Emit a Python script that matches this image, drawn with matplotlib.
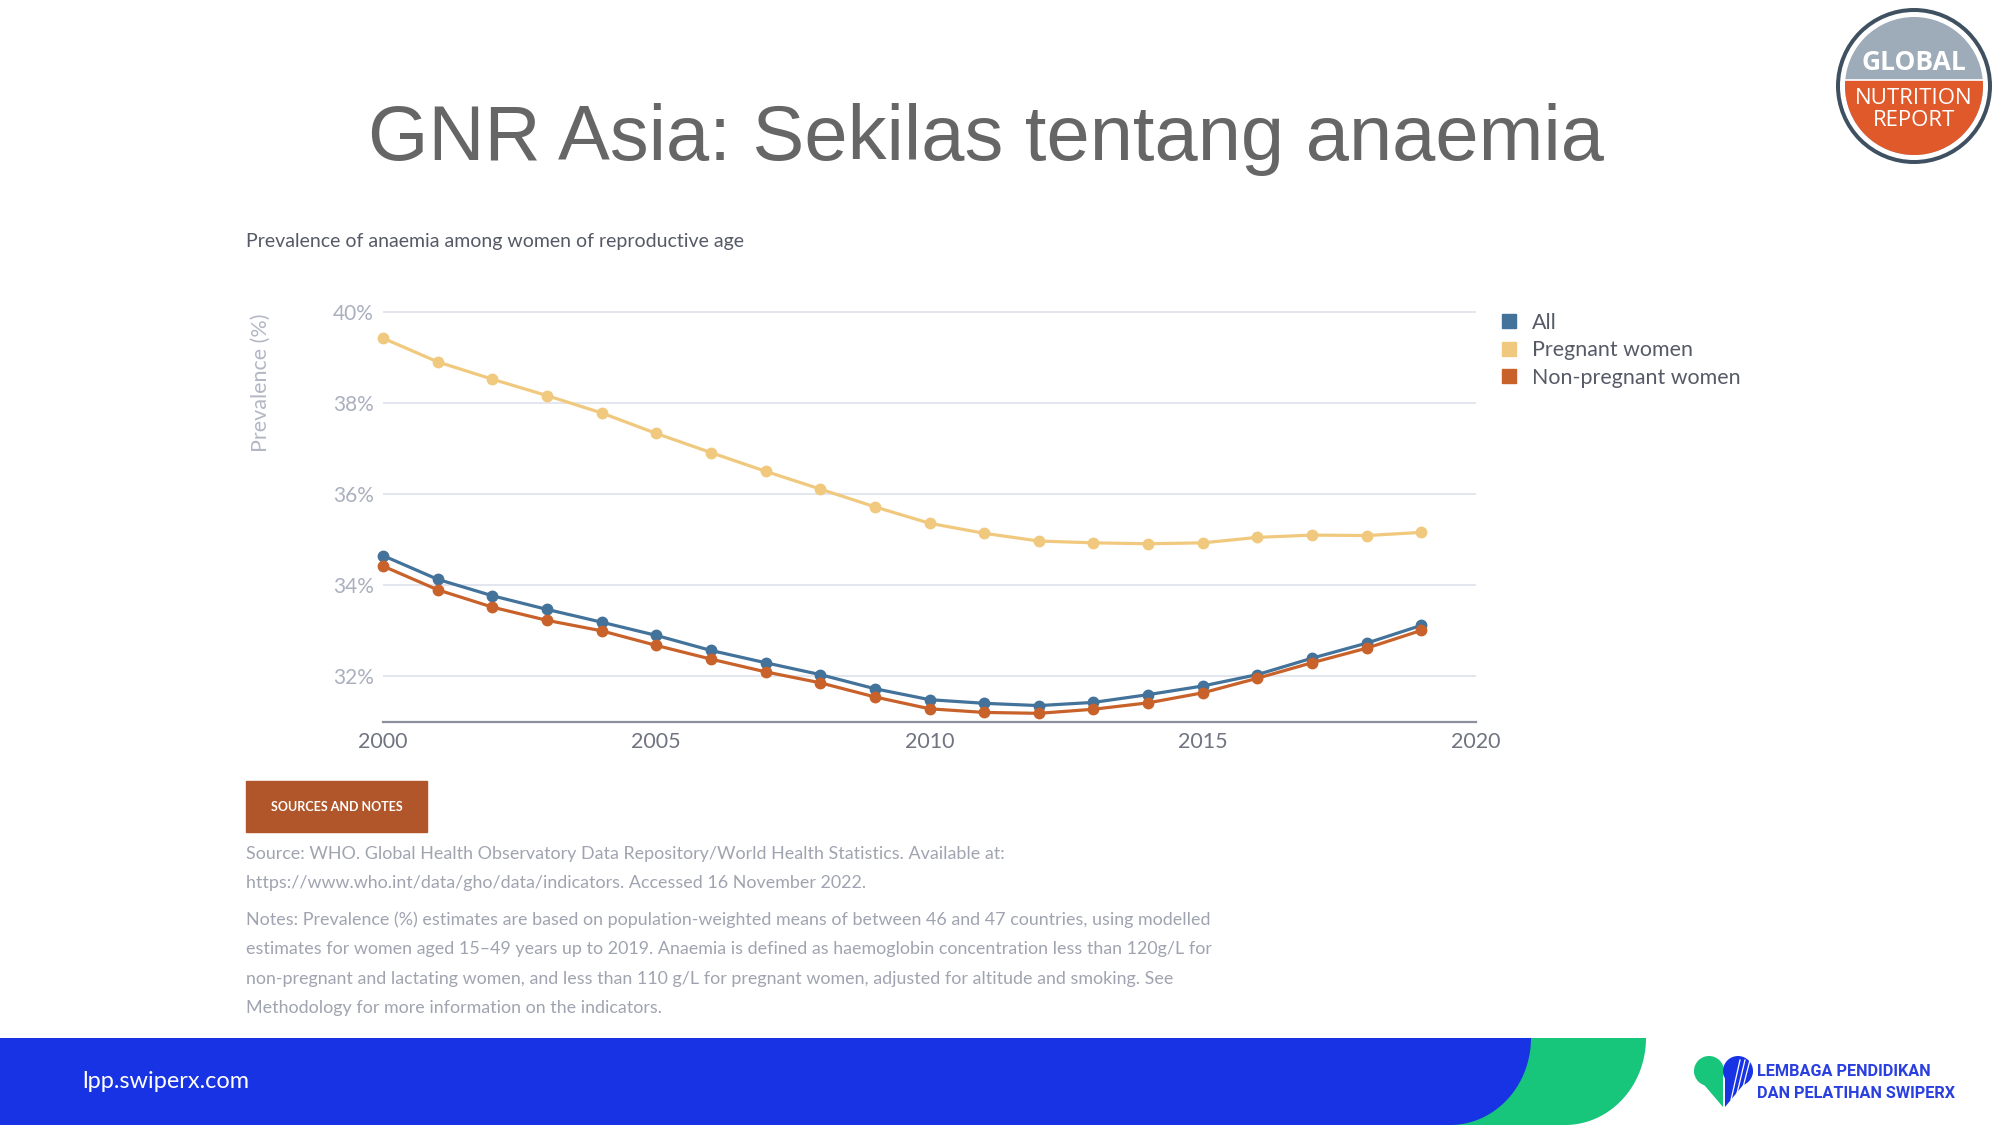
import matplotlib
matplotlib.use("Agg")
import matplotlib.pyplot as plt
from matplotlib.patches import Circle, Rectangle, Polygon
from matplotlib.lines import Line2D
import numpy as np

# values (% of women of reproductive age with anaemia)
years = list(range(2000, 2020))
all_women = [34.65, 34.13, 33.77, 33.47, 33.19, 32.90, 32.57, 32.30, 32.04, 31.73,
             31.49, 31.41, 31.36, 31.43, 31.60, 31.79, 32.04, 32.40, 32.73, 33.12]
pregnant = [39.42, 38.90, 38.52, 38.16, 37.78, 37.33, 36.91, 36.50, 36.11, 35.72,
            35.36, 35.14, 34.97, 34.93, 34.91, 34.93, 35.05, 35.10, 35.09, 35.16]
non_pregnant = [34.42, 33.90, 33.52, 33.23, 33.00, 32.68, 32.38, 32.10, 31.86, 31.55,
                31.29, 31.21, 31.19, 31.28, 31.42, 31.64, 31.96, 32.30, 32.62, 33.01]

series_names = ["All", "Pregnant women", "Non-pregnant women"]
series_colors = ["#43729a", "#f0c97e", "#c8622a"]
y_ticks = [32, 34, 36, 38, 40]
y_tick_labels = ["32%", "34%", "36%", "38%", "40%"]
x_ticks = [2000, 2005, 2010, 2015, 2020]

title = "GNR Asia: Sekilas tentang anaemia"
subtitle = "Prevalence of anaemia among women of reproductive age"
source_lines = [
    "Source: WHO. Global Health Observatory Data Repository/World Health Statistics. Available at:",
    "https://www.who.int/data/gho/data/indicators. Accessed 16 November 2022.",
]
notes_lines = [
    "Notes: Prevalence (%) estimates are based on population-weighted means of between 46 and 47 countries, using modelled",
    "estimates for women aged 15\u201349 years up to 2019. Anaemia is defined as haemoglobin concentration less than 120g/L for",
    "non-pregnant and lactating women, and less than 110 g/L for pregnant women, adjusted for altitude and smoking. See",
    "Methodology for more information on the indicators.",
]

W, H = 2000, 1125
fig = plt.figure(figsize=(20, 11.25), dpi=100)
fig.patch.set_facecolor("white")

# full-figure layer in pixel units for the slide decoration
bg = fig.add_axes([0, 0, 1, 1], zorder=0)
bg.set_xlim(0, W)
bg.set_ylim(H, 0)
bg.axis("off")

# ---- chart ----
ax = fig.add_axes([383 / W, 1 - 722 / H, (1476 - 383) / W, (722 - 302.6) / H], zorder=2)
ax.set_facecolor("none")
ax.plot(years, pregnant, color=series_colors[1], lw=2.3, marker="o", ms=7.5, zorder=3, clip_on=False)
ax.plot(years, all_women, color=series_colors[0], lw=2.3, marker="o", ms=7.5, zorder=3, clip_on=False)
ax.plot(years, non_pregnant, color=series_colors[2], lw=2.3, marker="o", ms=7.5, zorder=4, clip_on=False)

ax.set_xlim(2000, 2020)
ax.set_ylim(31, 40.2)
ax.set_yticks(y_ticks)
ax.set_yticklabels(y_tick_labels)
ax.set_xticks(x_ticks)
ax.grid(axis="y", color="#e3e6ee", lw=1.4)
ax.set_axisbelow(True)
for s in ["top", "right", "left"]:
    ax.spines[s].set_visible(False)
ax.spines["bottom"].set_color("#8a909c")
ax.spines["bottom"].set_linewidth(1.6)
ax.tick_params(length=0)
ax.tick_params(axis="y", pad=6.5, labelsize=15, labelcolor="#aab0bf")
ax.tick_params(axis="x", pad=7, labelsize=15.5, labelcolor="#6f7480")
for lab in ax.get_xticklabels() + ax.get_yticklabels():
    lab.set_fontfamily("Lato")

handles = [Line2D([], [], ls="none", marker="s", ms=9.5, color=c) for c in series_colors]
fig.legend(handles, series_names, loc="upper left", bbox_to_anchor=(1491 / W, 1 - 302 / H),
           frameon=False, borderpad=0, handlelength=0.7, handletextpad=0.7,
           labelspacing=0.35, prop={"family": "Lato", "size": 15.4}, labelcolor="#555a66")

bg.text(261, 383, "Prevalence (%)", rotation=90, ha="center", va="center",
        fontsize=15.5, color="#b3b7c4", family="Lato")

# ---- slide texts ----
bg.text(986, 139, title, ha="center", va="center", fontsize=56, color="#666666",
        family="Liberation Sans")
bg.text(246, 241, subtitle, ha="left", va="center", fontsize=14, color="#555a66", family="Lato")

bg.add_patch(Rectangle((246, 781), 181, 51, color="#b0562a"))
bg.text(336.5, 807, "SOURCES AND NOTES", ha="center", va="center", fontsize=9,
        color="white", weight="bold", family="Lato")

for i, line in enumerate(source_lines):
    bg.text(246, 854 + i * 29, line, ha="left", va="center", fontsize=12.9,
            color="#a0a4b0", family="Lato")
for i, line in enumerate(notes_lines):
    bg.text(246, 920 + i * 29.3, line, ha="left", va="center", fontsize=12.9,
            color="#a0a4b0", family="Lato")

# ---- bottom band ----
def band(right, color, z):
    cx, cy, rx, ry = right - 81, 1038, 81, 87
    t = np.linspace(0, np.pi / 2, 40)
    arc = np.column_stack([cx + rx * np.cos(t), cy + ry * np.sin(t)])
    pts = np.vstack([[0, 1038], [right, 1038], arc, [0, H]])
    bg.add_patch(Polygon(pts, closed=True, color=color, zorder=z, lw=0))

band(1646, "#17c57b", 1)
band(1531, "#1733e3", 2)
bg.text(82, 1081, "lpp.swiperx.com", ha="left", va="center", fontsize=16.9, color="white",
        family="Lato", zorder=3)

# swiperx heart logo
bg.add_patch(Circle((1709, 1071), 15, color="#17c57b", lw=0))
bg.add_patch(Polygon([[1694, 1073], [1723, 1066], [1723, 1107]], closed=True, color="#17c57b", lw=0))
bg.add_patch(Circle((1738, 1071), 15, color="#1733e3", lw=0))
bg.add_patch(Polygon([[1753, 1073], [1725, 1066], [1725, 1107]], closed=True, color="#1733e3", lw=0))
for dx in (0, 5, 10):
    bg.plot([1731 + dx, 1740 + dx], [1100 - dx * 0.5, 1060], color="white", lw=0.9)
bg.text(1757, 1072, "LEMBAGA PENDIDIKAN", ha="left", va="center", fontsize=11.7,
        color="#2a3fe0", weight="bold", family="Roboto")
bg.text(1757, 1093, "DAN PELATIHAN SWIPERX", ha="left", va="center", fontsize=11.7,
        color="#2a3fe0", weight="bold", family="Roboto")

# global nutrition report badge
cx, cy = 1914, 86
bg.add_patch(Circle((cx, cy), 78, color="#3f5060", lw=0))
bg.add_patch(Circle((cx, cy), 74, color="white", lw=0))
bg.add_patch(Circle((cx, cy), 69, color="#9eabb8", lw=0))
lower = Circle((cx, cy), 69, color="#e0592a", lw=0)
bg.add_patch(lower)
clip = Rectangle((cx - 80, 80), 160, 100, transform=bg.transData)
lower.set_clip_path(clip)
bg.plot([cx - 69, cx + 69], [80, 80], color="white", lw=1.2)
bg.text(cx, 63, "GLOBAL", ha="center", va="center", fontsize=19, color="white",
        weight="bold", family="Open Sans")
bg.text(cx, 98, "NUTRITION", ha="center", va="center", fontsize=16, color="white",
        family="Open Sans")
bg.text(cx, 120, "REPORT", ha="center", va="center", fontsize=16, color="white",
        family="Open Sans")

fig.savefig("out.png", dpi=100)
